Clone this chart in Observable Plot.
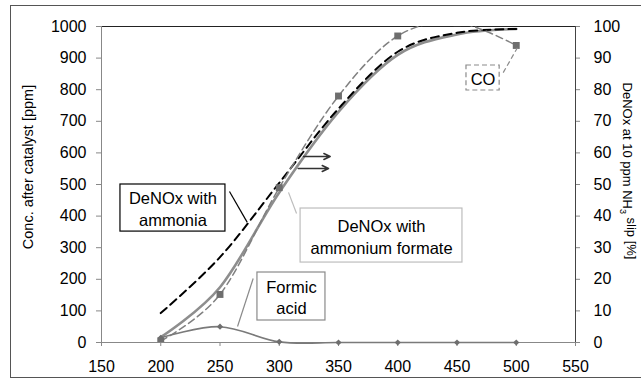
<!DOCTYPE html>
<html>
<head>
<meta charset="utf-8">
<script src="https://cdn.jsdelivr.net/npm/d3@7"></script>
<script src="https://cdn.jsdelivr.net/npm/@observablehq/plot@0.6"></script>
<style>
  html, body { margin: 0; padding: 0; background: white; }
  #wrap { position: relative; width: 641px; height: 382px; overflow: hidden; }
  #border { position: absolute; left: 10px; top: 5px; width: 640px; height: 373px; border: 1px solid #555; box-sizing: border-box; pointer-events: none; }
  svg { font-family: "Liberation Sans", Arial, sans-serif; }
</style>
</head>
<body>
<div id="wrap"><div id="chart"></div><div id="border"></div></div>
<script>
// ---- data ----
const temperatures = [200, 250, 300, 350, 400, 450, 500];          // °C
const formicAcid   = [15, 50, 2, 0, 0, 0, 0];                       // ppm (left axis)
const carbonMonoxide = [5, 152, 490, 780, 970, 1012, 940];          // ppm (left axis)
const denoxAmmonia = [9.3, 27, 50.5, 74, 92, 98, 99.2];             // % (right axis)
const denoxFormate = [1.7, 17.5, 47.5, 73, 91, 97.5, 99.2];         // % (right axis)

const xTicks = [150, 200, 250, 300, 350, 400, 450, 500, 550];
const leftTicks = [0, 100, 200, 300, 400, 500, 600, 700, 800, 900, 1000];
const rightTicks = [0, 10, 20, 30, 40, 50, 60, 70, 80, 90, 100];

const leftTitle = "Conc. after catalyst [ppm]";
const rightTitleParts = ["DeNOx at 10 ppm NH", "3", " slip [%]"];

// annotation boxes (in data units: x = °C, y = ppm)
const boxNames   = ["DeNOx with\nammonia", "DeNOx with\nammonium formate", "Formic\nacid", "CO"];
const boxX1      = [166, 318, 281.6, 458];
const boxX2      = [254.6, 454.6, 339, 486];
const boxY1      = [351, 253, 69.6, 797.5];
const boxY2      = [500, 424, 221.5, 876.6];
const boxStroke  = ["#000", "#bdbdbd", "#8a8a8a", "#8a8a8a"];
const boxDashed  = [false, false, false, true];

// leader lines
const leaderX1 = [258, 307.8, 278, 489];
const leaderY1 = [478, 475, 202.5, 854];
const leaderX2 = [273, 314.6, 264.8, 501];
const leaderY2 = [380, 408, 50.6, 933];
const leaderStroke = ["#000", "#bdbdbd", "#8a8a8a", "#8a8a8a"];
const leaderDashed = [false, false, false, true];

// right-pointing arrows (DeNOx curves read on right axis)
const arrowX1 = [320.5, 316];
const arrowX2 = [343, 341.6];
const arrowY  = [588.6, 550.6];

// ---- tables ----
const rows = temperatures.map((t, i) => ({
  t, formic: formicAcid[i], co: carbonMonoxide[i],
  nh3: denoxAmmonia[i], formate: denoxFormate[i]
}));
const boxes = boxNames.map((name, i) => ({
  name, x1: boxX1[i], x2: boxX2[i], y1: boxY1[i], y2: boxY2[i],
  stroke: boxStroke[i], dashed: boxDashed[i]
}));
const leaders = leaderX1.map((x1, i) => ({
  x1, y1: leaderY1[i], x2: leaderX2[i], y2: leaderY2[i], stroke: leaderStroke[i], dashed: leaderDashed[i]
}));
const arrows = arrowX1.map((x1, i) => ({x1, x2: arrowX2[i], y: arrowY[i]}));

const pctToPpm = p => p * 10;
const solidBoxes = boxes.filter(d => !d.dashed), dashedBoxes = boxes.filter(d => d.dashed);
const solidLeaders = leaders.filter(d => !d.dashed), dashedLeaders = leaders.filter(d => d.dashed);

const chart = Plot.plot({
  width: 641,
  height: 382,
  marginLeft: 101,
  marginRight: 66,
  marginTop: 26,
  marginBottom: 40,
  style: {fontSize: "16px", fontFamily: "'Liberation Sans', Arial, sans-serif", background: "white", color: "black"},
  x: {domain: [150, 550]},
  y: {domain: [0, 1000]},
  marks: [
    // frame
    Plot.ruleY([1000], {stroke: "#222", strokeWidth: 1}),
    Plot.ruleX([550], {stroke: "#444", strokeWidth: 1}),
    Plot.ruleX([150], {stroke: "#888", strokeWidth: 1}),
    Plot.ruleY([0], {stroke: "#888", strokeWidth: 1.2}),
    // axes
    Plot.axisX(xTicks, {tickSize: 4, tickPadding: 14, stroke: "#888", fill: "black", label: null, fontSize: 16, tickFormat: d => String(d)}),
    Plot.axisY(leftTicks, {anchor: "left", tickSize: 5, tickPadding: 10, stroke: "#888", fill: "black", label: null, fontSize: 16, tickFormat: d => String(d)}),
    Plot.axisY(rightTicks.map(pctToPpm), {anchor: "right", tickSize: 4, tickPadding: 14, stroke: "#888", fill: "black", label: null, tickFormat: d => String(d / 10), fontSize: 16}),
    // series
    Plot.line(rows, {x: "t", y: d => pctToPpm(d.formate), curve: "cardinal", tension: 0, stroke: "#8e8e8e", strokeWidth: 2.6}),
    Plot.line(rows, {x: "t", y: d => pctToPpm(d.nh3), curve: "cardinal", tension: 0, stroke: "#000", strokeWidth: 2, strokeDasharray: "8,5"}),
    Plot.line(rows, {x: "t", y: "co", curve: "cardinal", tension: 0, stroke: "#808080", strokeWidth: 1.5, strokeDasharray: "7,4", clip: true}),
    Plot.dot(rows, {x: "t", y: "co", symbol: "square", r: 3.9, fill: "#6e6e6e", stroke: "none", clip: true}),
    Plot.line(rows, {x: "t", y: "formic", curve: "cardinal", tension: 0, stroke: "#7a7a7a", strokeWidth: 1.6}),
    Plot.dot(rows, {x: "t", y: "formic", symbol: "diamond2", r: 2.8, fill: "#6e6e6e", stroke: "none"}),
    // annotations
    Plot.link(solidLeaders, {x1: "x1", y1: "y1", x2: "x2", y2: "y2", stroke: d => d.stroke, strokeWidth: 1.2}),
    Plot.link(dashedLeaders, {x1: "x1", y1: "y1", x2: "x2", y2: "y2", stroke: d => d.stroke, strokeDasharray: "5,3", strokeWidth: 1.2}),
    Plot.arrow(arrows, {x1: "x1", x2: "x2", y1: "y", y2: "y", stroke: "#333", strokeWidth: 1.5, headLength: 7, headAngle: 50}),
    Plot.rect(solidBoxes, {x1: "x1", x2: "x2", y1: "y1", y2: "y2", fill: "white", stroke: d => d.stroke, strokeWidth: 1.2, inset: 0}),
    Plot.rect(dashedBoxes, {x1: "x1", x2: "x2", y1: "y1", y2: "y2", fill: "white", stroke: d => d.stroke, strokeDasharray: "5,3", strokeWidth: 1.2, inset: 0}),
    Plot.text(boxes, {x: d => (d.x1 + d.x2) / 2, y: d => (d.y1 + d.y2) / 2, text: "name", fontSize: 16.5, lineHeight: 1.33, fill: "black", textAnchor: "middle", lineAnchor: "middle"})
  ]
});

document.getElementById("chart").appendChild(chart);

// axis titles
const svg = d3.select(chart);
svg.append("text")
  .attr("transform", "translate(28,167) rotate(-90)")
  .attr("text-anchor", "middle").attr("dy", "0.35em")
  .attr("fill", "black")
  .style("font-size", "14.5px")
  .text(leftTitle);
const rt = svg.append("text")
  .attr("transform", "translate(628,171) rotate(90)")
  .attr("text-anchor", "middle").attr("dy", "0.35em")
  .attr("fill", "black")
  .style("font-size", "13px");
rt.append("tspan").text(rightTitleParts[0]);
rt.append("tspan").attr("dy", "0.35em").style("font-size", "9px").text(rightTitleParts[1]);
rt.append("tspan").attr("dy", "-0.5em").text(rightTitleParts[2]);
</script>
</body>
</html>
